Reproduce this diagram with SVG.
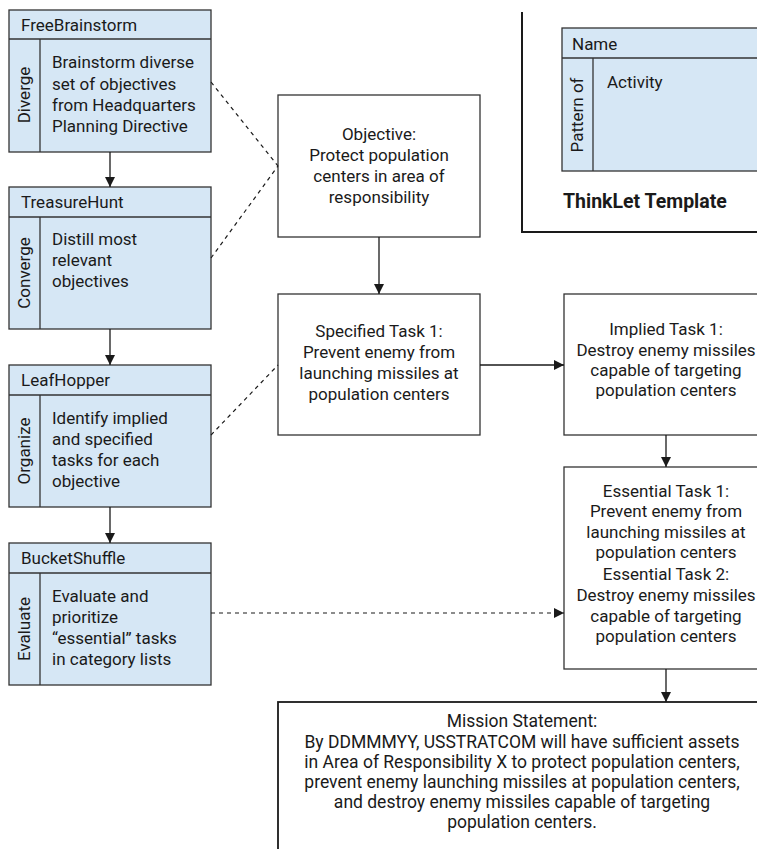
<svg xmlns="http://www.w3.org/2000/svg" width="757" height="849" viewBox="0 0 757 849">
<defs>
<marker id="ah" viewBox="0 0 10 10" refX="10" refY="5" markerWidth="10" markerHeight="10" markerUnits="userSpaceOnUse" orient="auto">
<path d="M0,0 L10,5 L0,10 z" fill="#1a1a1a"/>
</marker>
<style>
text{font-family:Roboto,"Noto Sans",sans-serif;font-size:17px;fill:#1a1a1a}
.c{text-anchor:middle}
.tl rect,.tl line{fill:#d6e7f5;stroke:#333;stroke-width:1.3}
.bx{fill:#fff;stroke:#333;stroke-width:1.3}
.ln{fill:none;stroke:#1a1a1a;stroke-width:1.3}
.ds{fill:none;stroke:#1a1a1a;stroke-width:1.2;stroke-dasharray:4,4}
.b{font-weight:bold;font-size:19.5px}
.m{font-size:17.5px}
</style>
</defs>
<rect width="757" height="849" fill="#fff"/>

<g id="template">
<path d="M522,12 V232 H757" fill="none" stroke="#1a1a1a" stroke-width="2"/>
<g class="tl">
<rect x="562" y="28" width="200" height="143"/>
<line x1="562" y1="58" x2="762" y2="58"/>
<line x1="593" y1="58" x2="593" y2="171"/>
</g>
<text x="572" y="50">Name</text>
<text x="607" y="88">Activity</text>
<text class="c" transform="translate(583,115) rotate(-90)">Pattern of</text>
<text x="563" y="208" class="b">ThinkLet Template</text>
</g>

<g id="freebrainstorm" class="tl">
<rect x="9" y="10" width="202" height="142"/>
<line x1="9" y1="39" x2="211" y2="39"/>
<line x1="40" y1="39" x2="40" y2="152"/>
<text x="21" y="31">FreeBrainstorm</text>
<text class="c" transform="translate(30,95) rotate(-90)">Diverge</text>
<text x="52" y="68">Brainstorm diverse</text>
<text x="52" y="90">set of objectives</text>
<text x="52" y="111">from Headquarters</text>
<text x="52" y="132">Planning Directive</text>
</g>

<g id="treasurehunt" class="tl">
<rect x="9" y="187" width="202" height="142"/>
<line x1="9" y1="217" x2="211" y2="217"/>
<line x1="40" y1="217" x2="40" y2="329"/>
<text x="21" y="208">TreasureHunt</text>
<text class="c" transform="translate(30,273) rotate(-90)">Converge</text>
<text x="52" y="245">Distill most</text>
<text x="52" y="266">relevant</text>
<text x="52" y="287">objectives</text>
</g>

<g id="leafhopper" class="tl">
<rect x="9" y="365" width="202" height="142"/>
<line x1="9" y1="395" x2="211" y2="395"/>
<line x1="40" y1="395" x2="40" y2="507"/>
<text x="21" y="386">LeafHopper</text>
<text class="c" transform="translate(30,451) rotate(-90)">Organize</text>
<text x="52" y="424">Identify implied</text>
<text x="52" y="445">and specified</text>
<text x="52" y="466">tasks for each</text>
<text x="52" y="487">objective</text>
</g>

<g id="bucketshuffle" class="tl">
<rect x="9" y="543" width="202" height="142"/>
<line x1="9" y1="573" x2="211" y2="573"/>
<line x1="40" y1="573" x2="40" y2="685"/>
<text x="21" y="564">BucketShuffle</text>
<text class="c" transform="translate(30,629) rotate(-90)">Evaluate</text>
<text x="52" y="602">Evaluate and</text>
<text x="52" y="623">prioritize</text>
<text x="52" y="644">“essential” tasks</text>
<text x="52" y="665">in category lists</text>
</g>

<g id="objective">
<rect class="bx" x="278" y="95" width="202" height="142"/>
<text class="c" x="379" y="140">Objective:</text>
<text class="c" x="379" y="161">Protect population</text>
<text class="c" x="379" y="182">centers in area of</text>
<text class="c" x="379" y="203">responsibility</text>
</g>

<g id="specified">
<rect class="bx" x="278" y="294" width="202" height="141"/>
<text class="c" x="379" y="337">Specified Task 1:</text>
<text class="c" x="379" y="358">Prevent enemy from</text>
<text class="c" x="379" y="379">launching missiles at</text>
<text class="c" x="379" y="400">population centers</text>
</g>

<g id="implied">
<rect class="bx" x="564" y="294" width="210" height="141"/>
<text class="c" x="666" y="335">Implied Task 1:</text>
<text class="c" x="666" y="356">Destroy enemy missiles</text>
<text class="c" x="666" y="376">capable of targeting</text>
<text class="c" x="666" y="396">population centers</text>
</g>

<g id="essential">
<rect class="bx" x="564" y="467" width="210" height="202"/>
<text class="c" x="666" y="497">Essential Task 1:</text>
<text class="c" x="666" y="517">Prevent enemy from</text>
<text class="c" x="666" y="538">launching missiles at</text>
<text class="c" x="666" y="558">population centers</text>
<text class="c" x="666" y="580">Essential Task 2:</text>
<text class="c" x="666" y="601">Destroy enemy missiles</text>
<text class="c" x="666" y="622">capable of targeting</text>
<text class="c" x="666" y="642">population centers</text>
</g>

<g id="mission">
<rect x="278" y="702" width="500" height="160" fill="#fff" stroke="#1a1a1a" stroke-width="1.8"/>
<text class="c m" x="522" y="727">Mission Statement:</text>
<text class="c m" x="522" y="748">By DDMMMYY, USSTRATCOM will have sufficient assets</text>
<text class="c m" x="522" y="768">in Area of Responsibility X to protect population centers,</text>
<text class="c m" x="522" y="788">prevent enemy launching missiles at population centers,</text>
<text class="c m" x="522" y="808">and destroy enemy missiles capable of targeting</text>
<text class="c m" x="522" y="828">population centers.</text>
</g>

<g id="connectors">
<line class="ln" x1="110" y1="152" x2="110" y2="187" marker-end="url(#ah)"/>
<line class="ln" x1="110" y1="329" x2="110" y2="365" marker-end="url(#ah)"/>
<line class="ln" x1="110" y1="507" x2="110" y2="543" marker-end="url(#ah)"/>
<line class="ln" x1="379" y1="237" x2="379" y2="294" marker-end="url(#ah)"/>
<line class="ln" x1="480" y1="365" x2="564" y2="365" marker-end="url(#ah)"/>
<line class="ln" x1="666" y1="435" x2="666" y2="467" marker-end="url(#ah)"/>
<line class="ln" x1="666" y1="669" x2="666" y2="702" marker-end="url(#ah)"/>
<line class="ds" x1="211" y1="613" x2="564" y2="613" marker-end="url(#ah)"/>
<line class="ds" x1="211" y1="82" x2="278" y2="166"/>
<line class="ds" x1="211" y1="258" x2="278" y2="166"/>
<line class="ds" x1="211" y1="435" x2="278" y2="365"/>
</g>
</svg>
